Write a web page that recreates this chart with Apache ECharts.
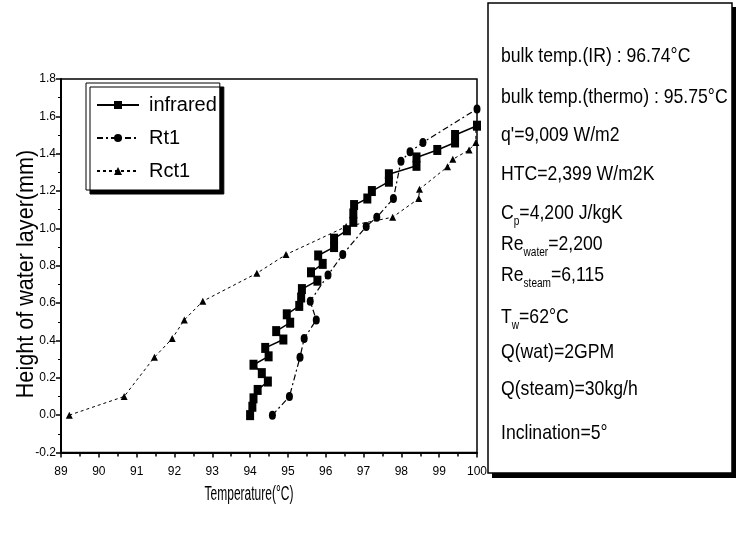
<!DOCTYPE html>
<html>
<head>
<meta charset="utf-8">
<script src="https://cdn.jsdelivr.net/npm/echarts@6/dist/echarts.min.js"></script>
<style>html,body{margin:0;padding:0;background:#fff}#c{width:736px;height:538px}</style>
</head>
<body>
<div id="c"></div>
<script>
// ---- data ----
var seriesNames = ['infrared', 'Rt1', 'Rct1'];
var infraredT = [94.00,94.06,94.09,94.20,94.47,94.31,94.09,94.49,94.40,94.88,94.69,95.06,94.97,95.30,95.35,95.37,95.78,95.61,95.92,95.80,96.22,96.22,96.56,96.73,96.73,96.75,97.10,97.22,97.67,97.67,98.40,98.40,98.95,99.42,99.42,100.0];
var infraredH = [0.00,0.045,0.09,0.135,0.18,0.225,0.27,0.315,0.36,0.405,0.45,0.495,0.54,0.585,0.63,0.675,0.72,0.765,0.81,0.855,0.90,0.945,0.99,1.035,1.08,1.125,1.16,1.20,1.25,1.29,1.335,1.38,1.42,1.46,1.50,1.55];
var rt1T = [94.59,95.04,95.32,95.43,95.75,95.59,96.06,96.45,97.07,97.35,97.79,97.99,98.23,98.57,100.0];
var rt1H = [0.00,0.10,0.31,0.41,0.51,0.61,0.75,0.86,1.01,1.06,1.16,1.36,1.41,1.46,1.64];
var rct1T = [89.22,90.67,91.47,91.94,92.26,92.75,94.18,94.95,96.54,97.77,98.46,98.48,99.22,99.36,99.79,99.97,99.97];
var rct1H = [0.00,0.10,0.31,0.41,0.51,0.61,0.76,0.86,1.01,1.06,1.16,1.21,1.33,1.37,1.42,1.46,1.55];
var xTicks = [89,90,91,92,93,94,95,96,97,98,99,100];
var yTicks = [-0.2,0.0,0.2,0.4,0.6,0.8,1.0,1.2,1.4,1.6,1.8];
var annotations = [
  '{a|bulk temp.(IR) : 96.74°C}',
  '{a|bulk temp.(thermo) : 95.75°C}',
  "{a|q'=9,009 W/m2}",
  '{a|HTC=2,399 W/m2K}',
  '{a|C}{s|p}{a|=4,200 J/kgK}',
  '{a|Re}{s|water}{a|=2,200}',
  '{a|Re}{s|steam}{a|=6,115}',
  '{a|T}{s|w}{a|=62°C}',
  '{a|Q(wat)=2GPM}',
  '{a|Q(steam)=30kg/h}',
  '{a|Inclination=5°}'
];
var xTitle = 'Temperature(°C)';
var yTitle = 'Height of water layer(mm)';

function zip(a, b) { return a.map(function (v, i) { return [v, b[i]]; }); }

var FONT = '"Liberation Sans", Arial, sans-serif';
var annY = [56, 97, 135, 174, 213, 244, 275, 317, 352, 389, 433];

var graphics = [
  { type: 'rect', shape: { x: 492, y: 7, width: 244, height: 471 }, style: { fill: '#000' }, z: 10 },
  { type: 'rect', shape: { x: 488, y: 3, width: 244, height: 470 }, style: { fill: '#fff', stroke: '#000', lineWidth: 1.5 }, z: 11 },
  { type: 'text', x: 249, y: 494, scaleX: 0.6, z: 11, style: { text: xTitle, font: '20px ' + FONT, fill: '#000', align: 'center', verticalAlign: 'middle' } },
  { type: 'text', x: 26, y: 274, rotation: Math.PI / 2, scaleX: 0.9, z: 11, style: { text: yTitle, font: '24px ' + FONT, fill: '#000', align: 'center', verticalAlign: 'middle' } }
];
annotations.forEach(function (t, i) {
  graphics.push({
    type: 'text', x: 501, y: annY[i], scaleX: 0.84, z: 12,
    style: {
      text: t, fill: '#000', align: 'left', verticalAlign: 'middle',
      rich: {
        a: { fontFamily: FONT, fontSize: 21, lineHeight: 30, verticalAlign: 'middle', fill: '#000' },
        s: { fontFamily: FONT, fontSize: 12, lineHeight: 12, verticalAlign: 'bottom', fill: '#000' }
      }
    }
  });
});

var chart = echarts.init(document.getElementById('c'), null, { renderer: 'canvas' });
chart.setOption({
  animation: false,
  backgroundColor: '#fff',
  grid: { left: 61, top: 79, width: 416, height: 373.5, show: true, borderColor: '#000', borderWidth: 1.5, backgroundColor: 'transparent' },
  legend: {
    orient: 'vertical', left: 86, top: 83,
    data: seriesNames,
    itemWidth: 42, itemHeight: 10, itemGap: 13,
    padding: [12, 3, 9, 10],
    backgroundColor: '#fff', borderColor: '#000', borderWidth: 1,
    shadowColor: '#000', shadowBlur: 0, shadowOffsetX: 4, shadowOffsetY: 4,
    textStyle: { fontFamily: FONT, fontSize: 20, color: '#000', padding: [0, 0, 0, 5] }
  },
  xAxis: {
    type: 'value', min: 89, max: 100, interval: 1,
    axisLine: { show: true, onZero: false, lineStyle: { color: '#000', width: 2 } },
    axisTick: { show: true, length: 5, lineStyle: { color: '#000', width: 1.5 } },
    minorTick: { show: true, splitNumber: 2, length: 4, lineStyle: { color: '#000', width: 1.5 } },
    splitLine: { show: false },
    axisLabel: { color: '#000', fontFamily: FONT, fontSize: 12, margin: 13, formatter: function (v) { return xTicks.indexOf(v) >= 0 ? String(v) : ''; } }
  },
  yAxis: {
    type: 'value', min: -0.2, max: 1.8, interval: 0.2,
    axisLine: { show: true, onZero: false, lineStyle: { color: '#000', width: 2 } },
    axisTick: { show: true, length: 5, lineStyle: { color: '#000', width: 1.5 } },
    minorTick: { show: true, splitNumber: 2, length: 3, lineStyle: { color: '#000', width: 1 } },
    splitLine: { show: false },
    axisLabel: { color: '#000', fontFamily: FONT, fontSize: 12, margin: 5, formatter: function (v) { return v.toFixed(1); } }
  },
  series: [
    {
      name: seriesNames[0], type: 'line', data: zip(infraredT, infraredH),
      symbol: 'rect', symbolSize: [8, 10], z: 5,
      itemStyle: { color: '#000' },
      lineStyle: { color: '#000', width: 1.5, type: 'solid' }
    },
    {
      name: seriesNames[1], type: 'line', data: zip(rt1T, rt1H),
      symbol: 'circle', symbolSize: [7, 9], z: 4,
      itemStyle: { color: '#000' },
      lineStyle: { color: '#000', width: 1.2, type: [6, 3, 2, 3] }
    },
    {
      name: seriesNames[2], type: 'line', data: zip(rct1T, rct1H),
      symbol: 'triangle', symbolSize: 7, z: 3,
      itemStyle: { color: '#000' },
      lineStyle: { color: '#000', width: 1, type: [3, 3] }
    }
  ],
  graphic: graphics
});
</script>
</body>
</html>
